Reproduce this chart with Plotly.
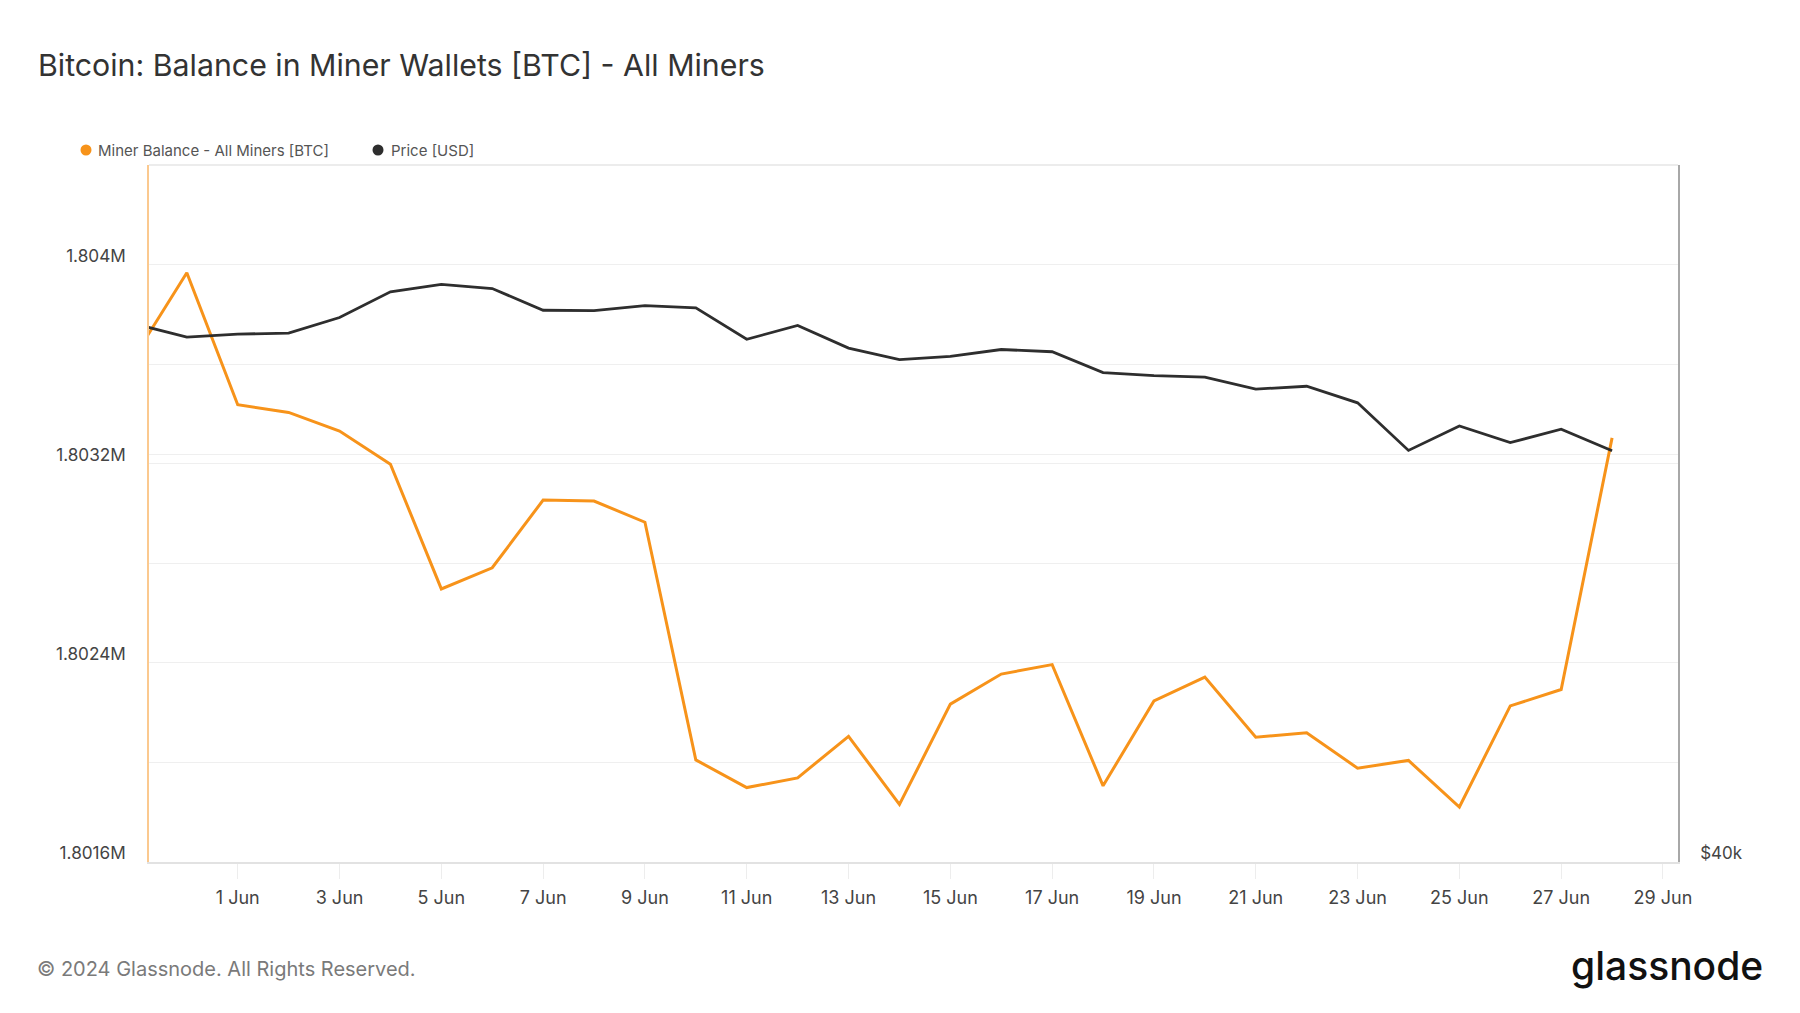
import plotly.graph_objects as go

dates = [
    "2024-05-30", "2024-05-31", "2024-06-01", "2024-06-02", "2024-06-03",
    "2024-06-04", "2024-06-05", "2024-06-06", "2024-06-07", "2024-06-08",
    "2024-06-09", "2024-06-10", "2024-06-11", "2024-06-12", "2024-06-13",
    "2024-06-14", "2024-06-15", "2024-06-16", "2024-06-17", "2024-06-18",
    "2024-06-19", "2024-06-20", "2024-06-21", "2024-06-22", "2024-06-23",
    "2024-06-24", "2024-06-25", "2024-06-26", "2024-06-27", "2024-06-28",
]

miner_balance = [
    1803640, 1803967, 1803437, 1803406, 1803331,
    1803198, 1802697, 1802782, 1803054, 1803050,
    1802965, 1802010, 1801899, 1801938, 1802105,
    1801831, 1802234, 1802355, 1802393, 1801906,
    1802247, 1802343, 1802101, 1802119, 1801977,
    1802008, 1801821, 1802227, 1802293, 1803304,
]

price_usd = [
    68290, 67420, 67620, 67680, 68740,
    70520, 71040, 70750, 69240, 69210,
    69560, 69400, 67270, 68200, 66680,
    65920, 66130, 66590, 66440, 65080,
    64880, 64790, 64020, 64200, 63150,
    60230, 61710, 60700, 61520, 60210,
]

left_tickvals = [1801600, 1802000, 1802400, 1802800, 1803200, 1803600, 1804000, 1804400]
left_ticktext = ["1.8016M", "", "1.8024M", "", "1.8032M", "", "1.804M", ""]
right_tickvals = [40000, 60000]
right_ticktext = ["$40k", ""]

title_text = "Bitcoin: Balance in Miner Wallets [BTC] - All Miners"
legend_names = ["Miner Balance - All Miners [BTC]", "Price [USD]"]
footer_text = "© 2024 Glassnode. All Rights Reserved."
brand_text = "glassnode"

ORANGE = "#F7931A"
DARK = "#2E2E2E"
GRID = "#EFEFEF"
FONT = "Inter"

fig = go.Figure()

fig.add_trace(go.Scatter(
    x=dates, y=price_usd, name=legend_names[1], mode="lines",
    line=dict(color=DARK, width=2.8), yaxis="y2", showlegend=False,
))
fig.add_trace(go.Scatter(
    x=dates, y=miner_balance, name=legend_names[0], mode="lines",
    line=dict(color=ORANGE, width=3), yaxis="y", showlegend=False,
))

W, H = 1800, 1013
L, R, T, B = 141, 130, 157, 159

fig.update_layout(
    width=W, height=H,
    margin=dict(l=L, r=R, t=T, b=B),
    paper_bgcolor="white", plot_bgcolor="white",
    font=dict(family=FONT, color="#444444"),
    title=dict(
        text=title_text, x=30 / W, xref="container", xanchor="left",
        y=1 - 57 / H, yref="container", yanchor="middle",
        font=dict(family=FONT, size=30.3, color="#333333"),
    ),
    xaxis=dict(
        type="date",
        range=["2024-05-30 06:10", "2024-06-29 07:05"],
        tick0="2024-06-01", dtick=2 * 86400000, tickformat="%-d %b",
        ticks="outside", ticklen=15, tickcolor="#EDEDED", tickwidth=1,
        ticklabelstandoff=4,
        showgrid=False, zeroline=False,
        showline=True, linecolor="#E2E2E2", linewidth=1.5,
        tickfont=dict(family=FONT, size=18, color="#444444"),
        mirror=False,
    ),
    yaxis=dict(
        range=[1801600, 1804400],
        tickmode="array", tickvals=left_tickvals, ticktext=left_ticktext,
        showgrid=True, gridcolor=GRID, gridwidth=1,
        zeroline=False, showline=True, linecolor="#FBC98F", linewidth=1.5,
        ticks="", ticklabelstandoff=18, ticklabelshift=-9,
        tickfont=dict(family=FONT, size=17.2, color="#444444"),
    ),
    yaxis2=dict(
        overlaying="y", side="right", type="log",
        range=[4.60206, 4.90309],
        tickmode="array", tickvals=right_tickvals, ticktext=right_ticktext,
        showgrid=True, gridcolor=GRID, gridwidth=1,
        zeroline=False, showline=True, linecolor="#A8A8A8", linewidth=1.5,
        ticks="", ticklabelstandoff=17, ticklabelshift=-9,
        tickfont=dict(family=FONT, size=17, color="#444444"),
    ),
    showlegend=False,
)

# top border of plot area
fig.add_shape(type="line", xref="paper", yref="paper", x0=0, x1=1, y0=1, y1=1,
              line=dict(color="#E6E6E6", width=1.5))

# legend (dots + labels)
ph = H - T - B
pw = W - L - R
def px_x(x):
    return (x - L) / pw
def px_y(y):
    return (H - B - y) / ph

legend_y = 142
for cx, color, label, tx in [(78, ORANGE, legend_names[0], 88), (370, DARK, legend_names[1], 381)]:
    fig.add_shape(type="circle", xref="paper", yref="paper",
                  xsizemode="pixel", ysizemode="pixel",
                  xanchor=px_x(cx), yanchor=px_y(legend_y),
                  x0=-5.5, x1=5.5, y0=-5.5, y1=5.5,
                  fillcolor=color, line=dict(width=0))
    fig.add_annotation(text=label, xref="paper", yref="paper",
                       x=px_x(tx), y=px_y(legend_y), xanchor="left", yanchor="middle",
                       showarrow=False, font=dict(family=FONT, size=15, color="#555555"))

fig.add_annotation(text=footer_text, xref="paper", yref="paper",
                   x=px_x(27), y=px_y(961), xanchor="left", yanchor="middle",
                   showarrow=False, font=dict(family=FONT, size=20, color="#7A7A7A"))
fig.add_annotation(text=brand_text, xref="paper", yref="paper",
                   x=px_x(1757), y=px_y(957), xanchor="right", yanchor="middle",
                   showarrow=False, font=dict(family=FONT, size=39, color="#111111", weight=500))

fig.write_html("out.html")
